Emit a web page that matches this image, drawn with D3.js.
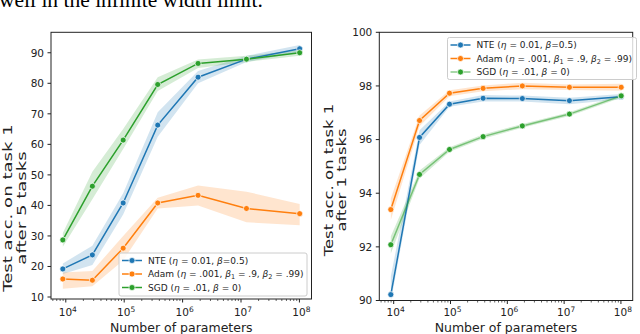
<!DOCTYPE html>
<html>
<head>
<meta charset="utf-8">
<script src="https://cdn.jsdelivr.net/npm/d3@7"></script>
<style>
  body { margin: 0; background: #fff; }
  svg { display: block; font-family: "DejaVu Sans", sans-serif; }
</style>
</head>
<body>
<svg width="640" height="334"></svg>
<script>
// number of parameters (x, shared by both panels)
var params = [8.9e3, 2.85e4, 9.6e4, 3.75e5, 1.84e6, 1.24e7, 1.01e8];

// left panel: test acc. on task 1 after 5 tasks
var nte5 = [19.2, 23.8, 40.8, 66.3, 82.0, 87.9, 91.3];
var nte5Lo = [17.5, 20.5, 37.0, 62.5, 80.0, 87.0, 90.2];
var nte5Hi = [21.0, 26.8, 44.0, 70.5, 84.0, 89.0, 92.5];
var adam5 = [15.9, 15.5, 26.0, 40.8, 43.3, 39.0, 37.3];
var adam5Lo = [12.7, 13.5, 22.0, 39.0, 40.0, 34.5, 33.5];
var adam5Hi = [18.0, 18.5, 30.0, 42.5, 46.5, 44.5, 40.5];
var sgd5 = [28.7, 46.3, 61.4, 79.6, 86.5, 87.9, 90.0];
var sgd5Lo = [26.5, 42.0, 58.5, 77.5, 85.0, 87.0, 89.0];
var sgd5Hi = [31.0, 51.0, 65.0, 82.0, 87.8, 89.0, 90.8];

// right panel: test acc. on task 1 after 1 tasks
var nte1 = [90.22, 96.08, 97.32, 97.54, 97.53, 97.45, 97.60];
var nte1Lo = [89.95, 95.80, 97.22, 97.42, 97.42, 97.32, 97.50];
var nte1Hi = [90.90, 96.35, 97.42, 97.66, 97.64, 97.56, 97.70];
var adam1 = [93.39, 96.71, 97.73, 97.91, 98.00, 97.95, 97.95];
var adam1Lo = [93.00, 96.50, 97.62, 97.80, 97.88, 97.85, 97.82];
var adam1Hi = [93.80, 96.90, 97.84, 98.02, 98.12, 98.05, 98.08];
var sgd1 = [92.08, 94.70, 95.63, 96.11, 96.51, 96.95, 97.63];
var sgd1Lo = [91.75, 94.55, 95.55, 96.03, 96.44, 96.88, 97.56];
var sgd1Hi = [92.40, 94.85, 95.71, 96.19, 96.58, 97.02, 97.70];

var yTicksLeft = [10, 20, 30, 40, 50, 60, 70, 80, 90];
var yTicksRight = [90, 92, 94, 96, 98, 100];
var xTickExps = [4, 5, 6, 7, 8];

var colors = ['#1f77b4', '#ff7f0e', '#2ca02c'];

// legend labels as [text, kind] pieces: kind i = italic, s = subscript
var legendParts = [
  [['NTE ('], ['η', 'i'], [' = 0.01, '], ['β', 'i'], ['=0.5)']],
  [['Adam ('], ['η', 'i'], [' = .001, '], ['β', 'i'], ['1', 's'], [' = .9, '], ['β', 'i'], ['2', 's'], [' = .99)']],
  [['SGD ('], ['η', 'i'], [' = .01, '], ['β', 'i'], [' = 0)']]
];

var svg = d3.select('svg');

// cut-off line of paper text above the figure
svg.append('text')
    .attr('x', -1)
    .attr('y', 7)
    .style('font-family', '"Liberation Serif", serif')
    .style('font-size', '21.5px')
    .text('well in the infinite width limit.');

drawPanel({
  id: 'l',
  x0: 51, x1: 311.5, y0: 32.3, y1: 299,
  yDomain: [9.35, 96.7],
  yTicks: yTicksLeft,
  series: [[nte5, nte5Lo, nte5Hi], [adam5, adam5Lo, adam5Hi], [sgd5, sgd5Lo, sgd5Hi]],
  lineOpacity: [1, 1, 1],
  ylabel: ['Test acc. on task 1', 'after 5 tasks'],
  ylabelX: 8, ylabelY: 208, ylabelStretch: 1.45,
  legend: {x: 119, y: 253, w: 188, h: 43}
});

drawPanel({
  id: 'r',
  x0: 379.3, x1: 632.7, y0: 32.3, y1: 300.5,
  yDomain: [90, 100],
  yTicks: yTicksRight,
  series: [[nte1, nte1Lo, nte1Hi], [adam1, adam1Lo, adam1Hi], [sgd1, sgd1Lo, sgd1Hi]],
  lineOpacity: [1, 1, 0.55],
  ylabel: ['Test acc. on task 1', 'after 1 tasks'],
  ylabelX: 328.5, ylabelY: 180, ylabelStretch: 1.32,
  legend: {x: 447.5, y: 37.5, w: 189, h: 42}
});

function drawPanel(p) {
  var lx = d3.extent(params).map(Math.log10);
  var pad = (lx[1] - lx[0]) * 0.05;
  var x = d3.scaleLog()
      .domain([Math.pow(10, lx[0] - pad), Math.pow(10, lx[1] + pad)])
      .range([p.x0, p.x1]);
  var y = d3.scaleLinear().domain(p.yDomain).range([p.y1, p.y0]);

  var g = svg.append('g');

  g.append('clipPath').attr('id', 'clip-' + p.id)
    .append('rect')
      .attr('x', p.x0).attr('y', p.y0)
      .attr('width', p.x1 - p.x0).attr('height', p.y1 - p.y0);

  var plot = g.append('g').attr('clip-path', 'url(#clip-' + p.id + ')');

  var area = d3.area()
      .x(function(d, i) { return x(params[i]); })
      .y0(function(d) { return y(d[0]); })
      .y1(function(d) { return y(d[1]); });

  var line = d3.line()
      .x(function(d, i) { return x(params[i]); })
      .y(function(d) { return y(d); });

  p.series.forEach(function(s, k) {
    plot.append('path')
        .attr('d', area(d3.zip(s[1], s[2])))
        .attr('fill', colors[k])
        .attr('fill-opacity', 0.2);
  });

  p.series.forEach(function(s, k) {
    plot.append('path')
        .attr('d', line(s[0]))
        .attr('fill', 'none')
        .attr('stroke', colors[k])
        .attr('stroke-opacity', p.lineOpacity[k])
        .attr('stroke-width', 1.5);
    plot.selectAll(null)
        .data(s[0])
        .enter()
        .append('circle')
          .attr('cx', function(d, i) { return x(params[i]); })
          .attr('cy', function(d) { return y(d); })
          .attr('r', 3)
          .attr('fill', colors[k])
          .attr('stroke', '#fff')
          .attr('stroke-width', 0.7);
  });

  // frame
  g.append('rect')
      .attr('x', p.x0).attr('y', p.y0)
      .attr('width', p.x1 - p.x0).attr('height', p.y1 - p.y0)
      .attr('fill', 'none')
      .attr('stroke', '#222')
      .attr('stroke-width', 1);

  // y ticks
  p.yTicks.forEach(function(t) {
    var ty = y(t);
    g.append('line')
        .attr('x1', p.x0 - 3.5).attr('x2', p.x0)
        .attr('y1', ty).attr('y2', ty)
        .attr('stroke', '#222');
    g.append('text')
        .attr('x', p.x0 - 7)
        .attr('y', ty)
        .attr('dy', '0.36em')
        .attr('text-anchor', 'end')
        .style('font-size', '10.5px')
        .attr('fill', '#222')
        .text(t);
  });

  // x minor ticks
  var dom = x.domain();
  for (var e = 3; e <= 8; e++) {
    for (var m = 2; m <= 9; m++) {
      var v = m * Math.pow(10, e);
      if (v < dom[0] || v > dom[1]) continue;
      g.append('line')
          .attr('x1', x(v)).attr('x2', x(v))
          .attr('y1', p.y1).attr('y2', p.y1 + 2)
          .attr('stroke', '#222')
          .attr('stroke-width', 0.7);
    }
  }

  // x major ticks
  xTickExps.forEach(function(ex) {
    var tx = x(Math.pow(10, ex));
    g.append('line')
        .attr('x1', tx).attr('x2', tx)
        .attr('y1', p.y1).attr('y2', p.y1 + 3.5)
        .attr('stroke', '#222');
    var t = g.append('text')
        .attr('x', tx + 2)
        .attr('y', 316)
        .attr('text-anchor', 'middle')
        .style('font-size', '10.5px')
        .attr('fill', '#222');
    t.append('tspan').text('10');
    t.append('tspan').attr('dy', -4.5).style('font-size', '7.5px').text(ex);
  });

  g.append('text')
      .attr('x', (p.x0 + p.x1) / 2)
      .attr('y', 331.5)
      .attr('text-anchor', 'middle')
      .style('font-size', '12.5px')
      .attr('fill', '#222')
      .text('Number of parameters');

  // y label (stretched along its length like the source figure)
  var yl = g.append('text')
      .attr('transform', 'translate(' + p.ylabelX + ',' + p.ylabelY + ') rotate(-90) scale(' + p.ylabelStretch + ',1)')
      .attr('text-anchor', 'middle')
      .style('font-size', '12.5px')
      .attr('fill', '#222');
  p.ylabel.forEach(function(s, i) {
    yl.append('tspan').attr('x', 0).attr('y', i * 13.5).attr('dy', '0.35em').text(s);
  });

  // legend
  var L = p.legend;
  var lg = g.append('g');
  lg.append('rect')
      .attr('x', L.x).attr('y', L.y)
      .attr('width', L.w).attr('height', L.h)
      .attr('rx', 2)
      .attr('fill', '#fff')
      .attr('fill-opacity', 0.8)
      .attr('stroke', '#ccc')
      .attr('stroke-width', 1);
  legendParts.forEach(function(parts, k) {
    var ry = L.y + 7.5 + k * 13.5;
    lg.append('line')
        .attr('x1', L.x + 3).attr('x2', L.x + 23)
        .attr('y1', ry).attr('y2', ry)
        .attr('stroke', colors[k])
        .attr('stroke-opacity', p.lineOpacity[k])
        .attr('stroke-width', 1.5);
    lg.append('circle')
        .attr('cx', L.x + 13).attr('cy', ry).attr('r', 3)
        .attr('fill', colors[k])
        .attr('stroke', '#fff')
        .attr('stroke-width', 0.7);
    var t = lg.append('text')
        .attr('x', L.x + 29)
        .attr('y', ry)
        .attr('dy', '0.35em')
        .style('font-size', '9px')
        .attr('fill', '#222');
    parts.forEach(function(pt) {
      var ts = t.append('tspan').text(pt[0]);
      if (pt[1] === 'i') ts.style('font-style', 'italic');
      if (pt[1] === 's') {
        ts.attr('dy', 2).style('font-size', '6.5px');
      }
      // bring baseline back after a subscript
      if (pt[1] !== 's' && ts.node().previousSibling &&
          d3.select(ts.node().previousSibling).attr('dy') === '2') {
        ts.attr('dy', -2);
      }
    });
  });
}
</script>
</body>
</html>
